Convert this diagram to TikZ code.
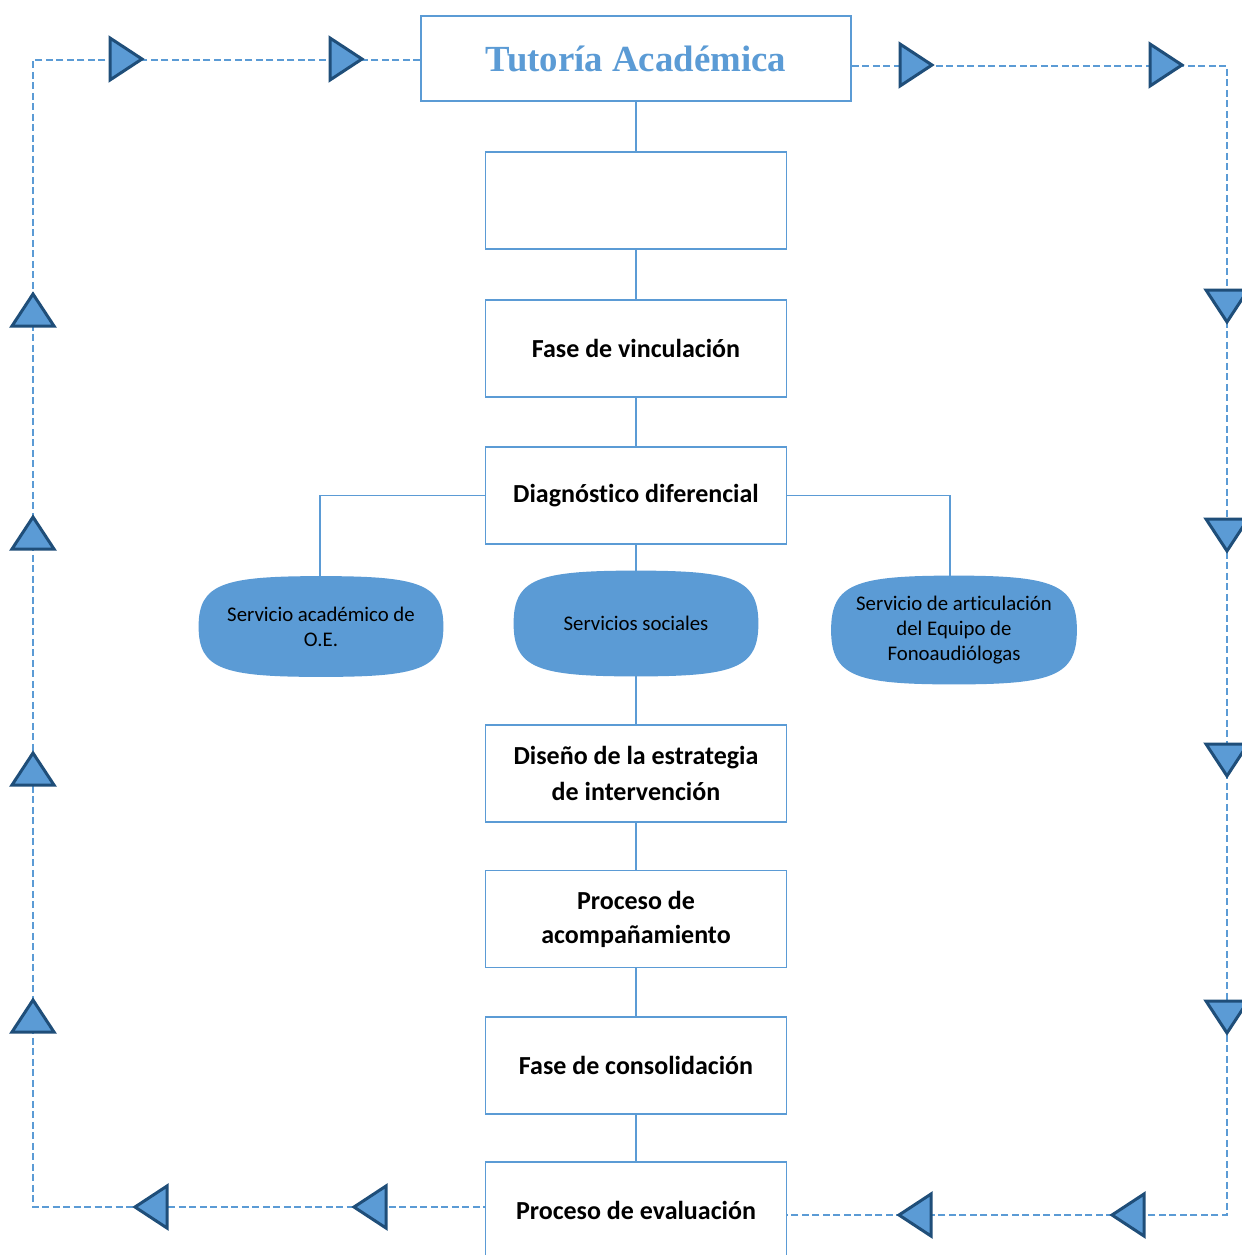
\documentclass[tikz,border=0pt]{standalone}
\usepackage{fontspec}
\setmainfont{Carlito}[Ligatures=NoCommon]
\newfontfamily\titlefont{Liberation Serif}
\usetikzlibrary{calc}
\definecolor{lblue}{HTML}{5B9BD5}
\definecolor{dblue}{HTML}{1F4E79}
\tikzset{
  box/.style={draw=lblue, line width=0.75pt, minimum width=150.5pt, minimum height=48.5pt, inner sep=0pt, align=center, text=black, font=\fontsize{13}{18}\selectfont\bfseries},
  blob/.style={minimum width=122pt, minimum height=50pt, inner sep=0pt, align=center, text=black, font=\fontsize{10.4}{12.5}\selectfont},
  link/.style={draw=lblue, line width=0.75pt},
  loopline/.style={draw=lblue, line width=0.6pt, dash pattern=on 3.5pt off 1.75pt},
  tri/.style={fill=lblue, draw=dblue, line width=1.5pt, line join=miter},
  triR/.pic={\path[tri] (-16,-21) -- (16,0) -- (-16,21) -- cycle;},
  triL/.pic={\path[tri] (16,-21) -- (-16,0) -- (16,21) -- cycle;},
  triU/.pic={\path[tri] (-21,16) -- (0,-16) -- (21,16) -- cycle;},
  triD/.pic={\path[tri] (-21,-16) -- (0,16) -- (21,-16) -- cycle;}
}
\newcommand\blobshape[1]{%
  \fill[lblue] (#1.west)
    .. controls ($(#1.west)!0.85!(#1.north west)$) and ($(#1.north)!0.8!(#1.north west)$) .. (#1.north)
    .. controls ($(#1.north)!0.8!(#1.north east)$) and ($(#1.east)!0.85!(#1.north east)$) .. (#1.east)
    .. controls ($(#1.east)!0.85!(#1.south east)$) and ($(#1.south)!0.8!(#1.south east)$) .. (#1.south)
    .. controls ($(#1.south)!0.8!(#1.south west)$) and ($(#1.west)!0.85!(#1.south west)$) .. (#1.west) -- cycle;}
\begin{document}
\begin{tikzpicture}[x=0.5pt,y=-0.5pt]
\useasboundingbox (0,0) rectangle (1242,1255);
\clip (0,0) rectangle (1242,1255);
\fill[white] (0,0) rectangle (1242,1255);

% main boxes
\node[box, minimum width=215pt, minimum height=42.5pt, text=lblue, font=\titlefont\fontsize{18.4}{22}\selectfont\bfseries] (title) at (636,58.5) {Tutoría Académica};
\node[box] (b0) at (636,200.5) {};
\node[box] (b1) at (636,348.5) {Fase de vinculación};
\node[box] (b2) at (636,495.5) {Diagnóstico diferencial};
\node[box] (b3) at (636,773.5) {Diseño de la estrategia\\de intervención};
\node[box, font=\fontsize{13}{17}\selectfont\bfseries] (b4) at (636,919) {Proceso de\\acompañamiento};
\node[box] (b5) at (636,1065.5) {Fase de consolidación};
\node[box] (b6) at (636,1210.5) {Proceso de evaluación};

% service blobs (shape filled first, text node on top)
\path node[blob] (s1) at (321,626.5) {\phantom{X}};
\path node[blob, minimum height=52.5pt] (s2) at (636,623.5) {\phantom{X}};
\path node[blob, minimum width=122.5pt, minimum height=54pt] (s3) at (954,630) {\phantom{X}};
\blobshape{s1}
\blobshape{s2}
\blobshape{s3}
\node[blob, minimum width=0pt, minimum height=0pt] (t1) at (s1) {Servicio académico de\\O.E.};
\node[blob, minimum width=0pt, minimum height=0pt] (t2) at (s2) {Servicios sociales};
\node[blob, minimum width=0pt, minimum height=0pt] (t3) at (s3) {Servicio de articulación\\del Equipo de\\Fonoaudiólogas};

% solid connectors
\draw[link] (title) -- (b0);
\draw[link] (b0) -- (b1);
\draw[link] (b1) -- (b2);
\draw[link] (b2) -- (s2);
\draw[link] (s2) -- (b3);
\draw[link] (b3) -- (b4);
\draw[link] (b4) -- (b5);
\draw[link] (b5) -- (b6);
\draw[link] (b2.west) -| ($(s1.north)+(-1,0)$);
\draw[link] (b2.east) -| ($(s3.north)+(-4,0)$);

% dashed loop
\coordinate (cTL) at (33,60);
\coordinate (cBL) at (33,1207);
\coordinate (cTR) at (1227,66);
\coordinate (cBR) at (1227,1215);
\draw[loopline] (title.west |- cTL) -- (cTL) -- (cBL) -- (b6.west |- cBL);
\draw[loopline] (title.east |- cTR) -- (cTR) -- (cBR) -- (b6.east |- cBR);

% triangles
\pic at (126,59) {triR};
\pic at (346,59) {triR};
\pic at (916,65) {triR};
\pic at (1166,65) {triR};
\pic at (1227,306) {triD};
\pic at (1227,535) {triD};
\pic at (1227,760) {triD};
\pic at (1227,1017) {triD};
\pic at (33,310) {triU};
\pic at (33,533) {triU};
\pic at (33,769) {triU};
\pic at (33,1016) {triU};
\pic at (151,1207) {triL};
\pic at (370,1207) {triL};
\pic at (915,1215) {triL};
\pic at (1128,1215) {triL};
\end{tikzpicture}
\end{document}
